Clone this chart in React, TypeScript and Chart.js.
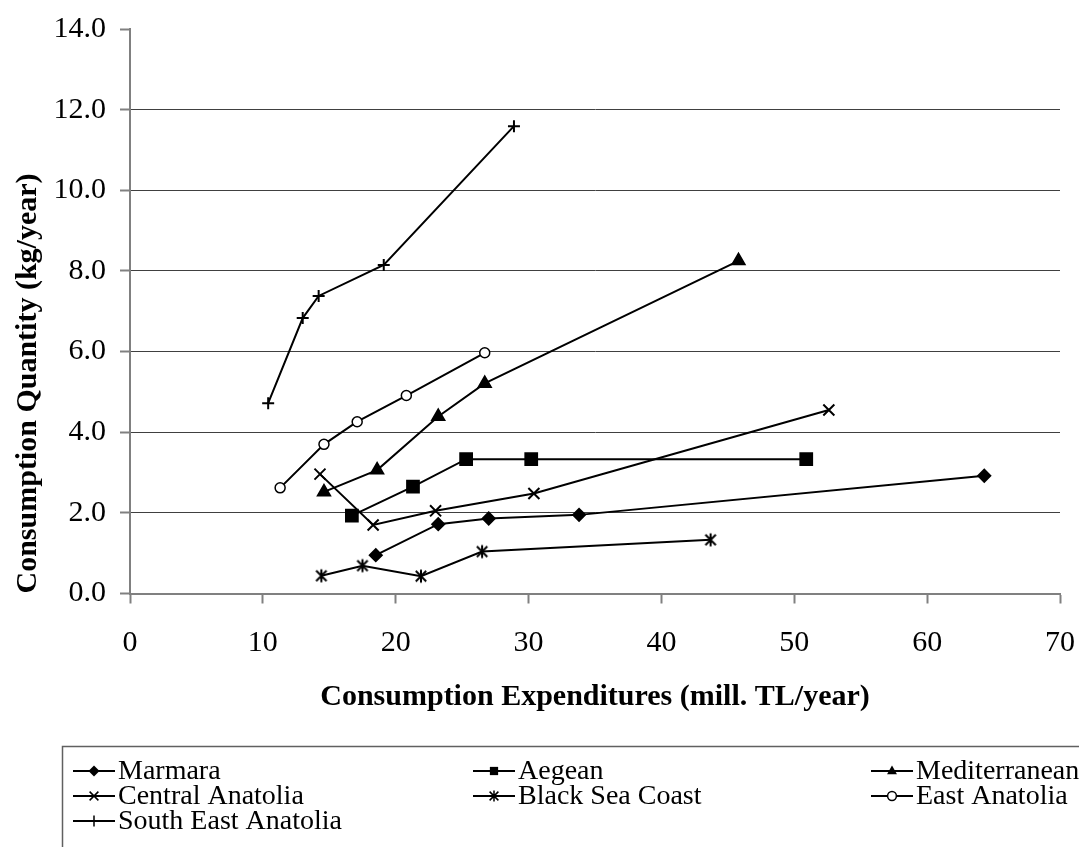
import React, { useEffect, useRef } from 'react';
import { Chart, registerables } from 'chart.js';
Chart.register(...registerables);

const W = 1079;
const H = 847;
const FONT = "'Liberation Serif', 'Times New Roman', serif";

// ---- data ----
const seriesNames = ['Marmara', 'Aegean', 'Mediterranean', 'Central Anatolia', 'Black Sea Coast', 'East Anatolia', 'South East Anatolia'];
const xMarmara = [18.5, 23.2, 27.0, 33.8, 64.3];
const yMarmara = [0.95, 1.72, 1.86, 1.95, 2.92];
const xAegean = [16.7, 21.3, 25.3, 30.2, 50.9];
const yAegean = [1.93, 2.65, 3.33, 3.33, 3.33];
const xMediterranean = [14.6, 18.6, 23.2, 26.7, 45.8];
const yMediterranean = [2.52, 3.06, 4.39, 5.21, 8.25];
const xCentral = [14.3, 18.3, 23.0, 30.4, 52.6];
const yCentral = [2.96, 1.70, 2.05, 2.48, 4.55];
const xBlackSea = [14.4, 17.5, 21.9, 26.5, 43.7];
const yBlackSea = [0.44, 0.69, 0.43, 1.04, 1.33];
const xEast = [11.3, 14.6, 17.1, 20.8, 26.7];
const yEast = [2.62, 3.70, 4.26, 4.91, 5.97];
const xSouthEast = [10.4, 13.0, 14.2, 19.1, 28.9];
const ySouthEast = [4.72, 6.83, 7.38, 8.15, 11.59];

const xValues = [xMarmara, xAegean, xMediterranean, xCentral, xBlackSea, xEast, xSouthEast];
const yValues = [yMarmara, yAegean, yMediterranean, yCentral, yBlackSea, yEast, ySouthEast];
const markerKinds = ['diamond', 'square', 'triangle', 'x', 'asterisk', 'circle', 'plus'];

const xTitle = 'Consumption Expenditures (mill. TL/year)';
const yTitle = 'Consumption Quantity (kg/year)';

function drawMarker(ctx: CanvasRenderingContext2D, kind: string, x: number, y: number, r: number, lw: number) {
  ctx.save();
  ctx.fillStyle = '#000';
  ctx.strokeStyle = '#000';
  ctx.lineWidth = lw;
  ctx.beginPath();
  switch (kind) {
    case 'diamond':
      ctx.moveTo(x, y - r); ctx.lineTo(x + r, y); ctx.lineTo(x, y + r); ctx.lineTo(x - r, y); ctx.closePath(); ctx.fill();
      break;
    case 'square':
      ctx.rect(x - r * 0.75, y - r * 0.75, r * 1.5, r * 1.5); ctx.fill();
      break;
    case 'triangle':
      ctx.moveTo(x, y - r); ctx.lineTo(x + r * 0.9, y + r * 0.6); ctx.lineTo(x - r * 0.9, y + r * 0.6); ctx.closePath(); ctx.fill();
      break;
    case 'x':
      ctx.moveTo(x - r * 0.8, y - r * 0.8); ctx.lineTo(x + r * 0.8, y + r * 0.8);
      ctx.moveTo(x + r * 0.8, y - r * 0.8); ctx.lineTo(x - r * 0.8, y + r * 0.8); ctx.stroke();
      break;
    case 'asterisk':
      ctx.moveTo(x - r * 0.8, y - r * 0.8); ctx.lineTo(x + r * 0.8, y + r * 0.8);
      ctx.moveTo(x + r * 0.8, y - r * 0.8); ctx.lineTo(x - r * 0.8, y + r * 0.8);
      ctx.moveTo(x, y - r); ctx.lineTo(x, y + r); ctx.stroke();
      break;
    case 'circle':
      ctx.fillStyle = '#fff';
      ctx.arc(x, y, r * 0.8, 0, Math.PI * 2); ctx.fill(); ctx.stroke();
      break;
    case 'plus':
      ctx.moveTo(x - r, y); ctx.lineTo(x + r, y); ctx.moveTo(x, y - r); ctx.lineTo(x, y + r); ctx.stroke();
      break;
  }
  ctx.restore();
}

function makeAsterisk(): HTMLCanvasElement {
  const c = document.createElement('canvas');
  c.width = 16; c.height = 16;
  const ctx = c.getContext('2d')!;
  drawMarker(ctx, 'asterisk', 8, 8, 6.5, 2);
  return c;
}

const legendPlugin = {
  id: 'customLegend',
  afterDraw(chart: any) {
    const ctx: CanvasRenderingContext2D = chart.ctx;
    ctx.save();
    ctx.strokeStyle = '#606060';
    ctx.lineWidth = 1.5;
    ctx.strokeRect(62.5, 746.5, 1100, 200);
    const colX = [73, 473, 871];
    const rowY = [771, 796, 821];
    ctx.font = `28px ${FONT}`;
    ctx.textBaseline = 'middle';
    ctx.textAlign = 'left';
    chart.data.datasets.forEach((ds: any, i: number) => {
      const cx = colX[i % 3];
      const cy = rowY[Math.floor(i / 3)];
      ctx.strokeStyle = '#000';
      ctx.lineWidth = 2;
      ctx.beginPath();
      ctx.moveTo(cx, cy);
      ctx.lineTo(cx + 42, cy);
      ctx.stroke();
      drawMarker(ctx, markerKinds[i], cx + 21, cy, 5.5, 1.5);
      ctx.fillStyle = '#000';
      ctx.fillText(ds.label, cx + 45, cy + 1);
    });
    ctx.restore();
  },
};

export default function App() {
  const ref = useRef<HTMLCanvasElement>(null);
  useEffect(() => {
    const asterisk = makeAsterisk();
    const pointStyles: any[] = ['rectRot', 'rect', 'triangle', 'crossRot', asterisk, 'circle', 'cross'];
    const radii = [6, 8.3, 7, 7.8, 6.5, 5, 6];
    const datasets = seriesNames.map((name, i) => ({
      label: name,
      data: xValues[i].map((x, j) => ({ x, y: yValues[i][j] })),
      showLine: true,
      borderColor: '#000',
      borderWidth: 2,
      backgroundColor: i === 5 ? '#fff' : '#000',
      pointStyle: pointStyles[i],
      pointRadius: radii[i],
      pointHoverRadius: radii[i],
      pointBorderWidth: i === 5 ? 1.5 : 2,
      pointBorderColor: '#000',
      pointBackgroundColor: i === 5 ? '#fff' : '#000',
      tension: 0,
    }));
    const chart = new Chart(ref.current!, {
      type: 'scatter',
      data: { datasets },
      plugins: [legendPlugin],
      options: {
        responsive: false,
        animation: false,
        devicePixelRatio: 1,
        layout: { padding: { left: 0, top: 29, right: 19, bottom: 123.5 } },
        plugins: { legend: { display: false }, tooltip: { enabled: false } },
        scales: {
          x: {
            type: 'linear',
            min: 0,
            max: 70,
            afterFit: (s: any) => { s.height = 130; s.paddingLeft = 0; s.paddingRight = 0; },
            ticks: { stepSize: 10, color: '#000', font: { family: FONT, size: 30 }, padding: 22, maxRotation: 0 },
            grid: { drawOnChartArea: false, drawTicks: true, tickLength: 10, tickColor: '#808080', tickWidth: 2 },
            border: { color: '#808080', width: 2 },
            title: { display: true, text: xTitle, color: '#000', font: { family: FONT, size: 30, weight: 'bold' }, padding: { top: 0, bottom: 8 } },
          },
          y: {
            type: 'linear',
            min: 0,
            max: 14,
            afterFit: (s: any) => { s.width = 130; s.paddingTop = 0; s.paddingBottom = 0; },
            ticks: { stepSize: 2, color: '#000', font: { family: FONT, size: 30 }, padding: 14, callback: (v: any) => Number(v).toFixed(1) },
            grid: {
              drawOnChartArea: true,
              drawTicks: true,
              tickLength: 10,
              color: (c: any) => (c.tick && c.tick.value === 14 ? 'rgba(0,0,0,0)' : '#404040'),
              lineWidth: 1,
              tickColor: '#808080',
              tickWidth: 2,
            },
            border: { color: '#808080', width: 2 },
            title: { display: true, text: yTitle, align: 'start', color: '#000', font: { family: FONT, size: 30, weight: 'bold' }, padding: { top: 10, bottom: 0 } },
          },
        },
      } as any,
    });
    return () => chart.destroy();
  }, []);
  return (
    <div style={{ position: 'fixed', left: 0, top: 0, width: W, height: H, background: '#fff' }}>
      <canvas ref={ref} width={W} height={H} style={{ width: W, height: H, display: 'block' }} />
    </div>
  );
}
